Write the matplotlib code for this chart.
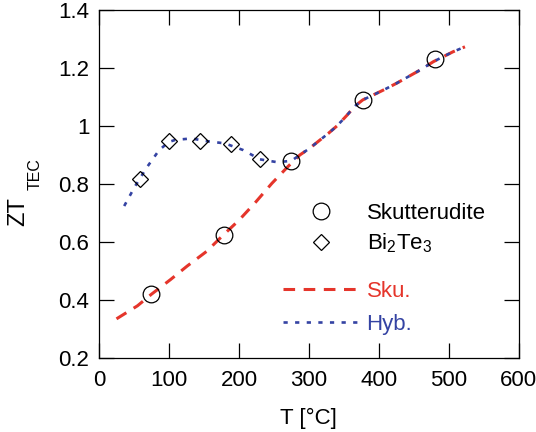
import matplotlib
matplotlib.use("Agg")
import matplotlib.pyplot as plt
from matplotlib.lines import Line2D

plt.rcParams["font.family"] = ["Liberation Sans", "DejaVu Sans"]
plt.rcParams["mathtext.fontset"] = "custom"
plt.rcParams["mathtext.rm"] = "Liberation Sans"
plt.rcParams["mathtext.it"] = "Liberation Sans:italic"

# measured ZT_TEC values
skutt_T = [75, 178, 275, 377, 480]
skutt_zt = [0.42, 0.625, 0.88, 1.09, 1.23]
bite_T = [59, 100, 145, 188, 230]
bite_zt = [0.817, 0.947, 0.947, 0.938, 0.885]

# model curves
sku_T = [25, 55, 75, 102, 126, 154, 178, 200, 223, 247, 270, 287, 301, 316,
         328, 340, 354, 366, 377, 392, 409, 425, 442, 459, 478, 506, 523]
sku_zt = [0.335, 0.38, 0.42, 0.47, 0.517, 0.568, 0.625, 0.675, 0.735, 0.802,
          0.86, 0.90, 0.923, 0.952, 0.975, 1.0, 1.036, 1.069, 1.09, 1.107,
          1.127, 1.147, 1.17, 1.193, 1.222, 1.256, 1.273]
hyb_T = [36, 51, 68, 86, 100, 109, 132, 156, 180, 206, 230, 255, 275, 287,
         301, 316, 328, 340, 354, 366, 377, 392, 409, 425, 442, 459, 478,
         506, 523]
hyb_zt = [0.724, 0.79, 0.856, 0.917, 0.945, 0.952, 0.957, 0.947, 0.940,
          0.917, 0.885, 0.875, 0.88, 0.90, 0.923, 0.952, 0.975, 1.0, 1.036,
          1.069, 1.09, 1.107, 1.127, 1.147, 1.17, 1.193, 1.222, 1.256, 1.273]

x_ticks = [0, 100, 200, 300, 400, 500, 600]
y_ticks = [0.2, 0.4, 0.6, 0.8, 1.0, 1.2, 1.4]
y_labels = ["0.2", "0.4", "0.6", "0.8", "1", "1.2", "1.4"]

red = "#e5352b"
blue = "#3443a3"
sku_style = (0, (3.8, 2.8))
hyb_style = (0, (1.6, 2.8))

fig = plt.figure(figsize=(5.36, 4.32), dpi=100)
ax = fig.add_axes([0.1847, 0.1713, 0.7833, 0.8056])

ax.plot(sku_T, sku_zt, color=red, lw=2.2, ls=sku_style, zorder=2)
ax.plot(hyb_T, hyb_zt, color=blue, lw=1.9, ls=hyb_style, zorder=3)
ax.plot(skutt_T, skutt_zt, ls="none", marker="o", ms=12, mfc="none",
        mec="black", mew=0.9, zorder=4)
ax.plot(bite_T, bite_zt, ls="none", marker="D", ms=8.6, mfc="none",
        mec="black", mew=0.9, zorder=4)

ax.set_xlim(0, 600)
ax.set_ylim(0.2, 1.4)
ax.set_xticks(x_ticks)
ax.set_yticks(y_ticks)
ax.set_yticklabels(y_labels)
ax.tick_params(direction="in", top=True, right=True, length=10.5, width=0.9,
               labelsize=16)
ax.tick_params(axis="x", pad=9)
ax.tick_params(axis="y", pad=7)
for sp in ax.spines.values():
    sp.set_linewidth(0.9)

ax.set_xlabel("T [°C]", fontsize=16, labelpad=12)
fig.text(18.5 / 536, 1 - 212 / 432, "ZT", rotation=90, fontsize=17,
         ha="center", va="center")
fig.text(35 / 536, 1 - 174.5 / 432, "TEC", rotation=90, fontsize=11.5,
         ha="center", va="center")

marker_handles = [
    Line2D([], [], ls="none", marker="o", ms=12, mfc="none", mec="black",
           mew=0.9),
    Line2D([], [], ls="none", marker="D", ms=8.6, mfc="none", mec="black",
           mew=0.9),
]
leg1 = ax.legend(marker_handles, ["Skutterudite", "Bi$_2$Te$_3$"],
                 loc="upper left", bbox_to_anchor=(283 / 536, 1 - 203 / 432),
                 bbox_transform=fig.transFigure, frameon=False, fontsize=16,
                 handlelength=3.4, handletextpad=0.36, borderpad=0,
                 borderaxespad=0, labelspacing=0.34)
ax.add_artist(leg1)

line_handles = [
    Line2D([], [], color=red, lw=2.2, ls=sku_style),
    Line2D([], [], color=blue, lw=1.9, ls=hyb_style),
]
ax.legend(line_handles, ["Sku.", "Hyb."], loc="upper left",
          bbox_to_anchor=(283 / 536, 1 - 281 / 432),
          bbox_transform=fig.transFigure, frameon=False, fontsize=16,
          handlelength=3.4, handletextpad=0.36, borderpad=0, borderaxespad=0,
          labelspacing=0.53, labelcolor="linecolor")

fig.savefig("out.png", dpi=100)
